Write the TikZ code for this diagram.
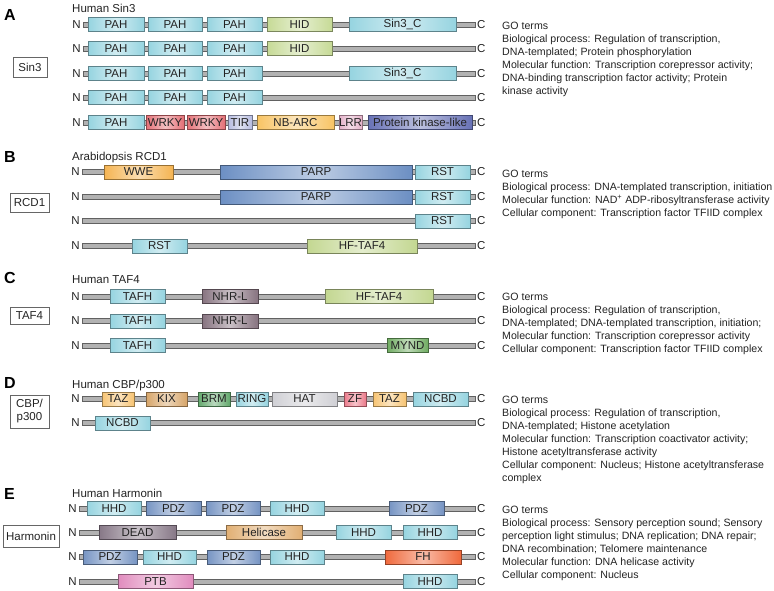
\documentclass[tikz,border=0pt]{standalone}
\usepackage{fontspec}
\setmainfont{Liberation Sans}
\definecolor{cyanD}{RGB}{150,212,224}
\definecolor{hidC}{RGB}{198,218,150}
\definecolor{wrkyC}{RGB}{228,112,118}
\definecolor{tirC}{RGB}{182,188,225}
\definecolor{nbarcC}{RGB}{248,196,100}
\definecolor{lrrC}{RGB}{228,176,200}
\definecolor{pkC}{RGB}{104,114,182}
\definecolor{wweC}{RGB}{245,180,82}
\definecolor{parpC}{RGB}{108,143,195}
\definecolor{hfC}{RGB}{195,215,145}
\definecolor{nhrC}{RGB}{135,115,128}
\definecolor{myndC}{RGB}{112,172,98}
\definecolor{tazC}{RGB}{247,196,115}
\definecolor{kixC}{RGB}{215,165,105}
\definecolor{brmC}{RGB}{98,168,108}
\definecolor{hatC}{RGB}{208,208,213}
\definecolor{zfC}{RGB}{235,122,138}
\definecolor{pdzC}{RGB}{118,148,195}
\definecolor{deadC}{RGB}{135,120,135}
\definecolor{helC}{RGB}{225,175,115}
\definecolor{fhC}{RGB}{240,105,60}
\definecolor{ptbC}{RGB}{225,140,190}
\definecolor{txt}{RGB}{35,35,35}
\newcommand{\dlab}{\fontsize{11.5}{11.5}\selectfont}
\newcommand{\golab}{\fontsize{10.6}{13}\selectfont}
\tikzset{
  dom/.style={draw=#1!62!black, line width=0.5pt, left color=#1, right color=#1, middle color=#1!45!white,
    minimum height=14, inner sep=0pt, font=\dlab, text=txt},
  backbone/.style={draw=black!62, fill=black!30, line width=0.5pt, minimum height=5, inner sep=0pt},
  term/.style={font=\dlab, text=txt, inner sep=0pt},
  famlabel/.style={draw=black!60, line width=0.5pt, font=\fontsize{11.5}{13}\selectfont, text=txt, inner sep=0pt, align=center},
  panel/.style={font=\fontsize{16}{16}\selectfont\bfseries, text=black, inner sep=0pt, anchor=west},
  heading/.style={font=\fontsize{11.5}{12}\selectfont, text=txt, inner sep=0pt, anchor=base west},
  goterm/.style={font=\golab, text=txt, inner sep=0pt, anchor=north west, align=left}
}
% name, x1, x2, y, color, label
\newcommand{\dm}[6]{\node[dom={#5}, minimum width={#3-#2}] (#1) at ({(#2+#3)/2},#4) {#6};}
% name, x1, x2, y
\newcommand{\bbone}[4]{%
  \node[backbone, minimum width={#3-#2}] (#1) at ({(#2+#3)/2},#4) {};
  \node[term, anchor=east] (#1n) at ({#2-2},#4) {N};
  \node[term, anchor=west] (#1c) at ({#3+2},#4) {C};}
\begin{document}
\begin{tikzpicture}[x=1pt,y=-1pt]
\useasboundingbox (0,0) rectangle (774,590);
% ---------------- A ----------------
\node[panel] (pA) at (4,15) {A};
\node[heading] (hA) at (72,12.3) {Human Sin3};
\node[famlabel, minimum width=34, minimum height=20] (sin3) at (30,67) {Sin3};
\bbone{a1}{83}{475}{24.5}
\dm{a1d1}{88}{144}{24.5}{cyanD}{PAH}
\dm{a1d2}{148}{202}{24.5}{cyanD}{PAH}
\dm{a1d3}{207}{262}{24.5}{cyanD}{PAH}
\dm{a1d4}{267}{332}{24.5}{hidC}{HID}
\dm{a1d5}{349}{456}{24.5}{cyanD}{Sin3\_C}
\bbone{a2}{83}{475}{48.7}
\dm{a2d1}{88}{144}{48.7}{cyanD}{PAH}
\dm{a2d2}{148}{202}{48.7}{cyanD}{PAH}
\dm{a2d3}{207}{262}{48.7}{cyanD}{PAH}
\dm{a2d4}{267}{332}{48.7}{hidC}{HID}
\bbone{a3}{83}{475}{73.3}
\dm{a3d1}{88}{144}{73.3}{cyanD}{PAH}
\dm{a3d2}{148}{202}{73.3}{cyanD}{PAH}
\dm{a3d3}{207}{262}{73.3}{cyanD}{PAH}
\dm{a3d5}{349}{456}{73.3}{cyanD}{Sin3\_C}
\bbone{a4}{83}{475}{97.3}
\dm{a4d1}{88}{144}{97.3}{cyanD}{PAH}
\dm{a4d2}{148}{202}{97.3}{cyanD}{PAH}
\dm{a4d3}{207}{262}{97.3}{cyanD}{PAH}
\bbone{a5}{83}{475}{122.3}
\dm{a5d1}{88}{144}{122.3}{cyanD}{PAH}
\dm{a5d2}{146}{184}{122.3}{wrkyC}{WRKY}
\dm{a5d3}{187}{225}{122.3}{wrkyC}{WRKY}
\dm{a5d4}{228}{252}{122.3}{tirC}{TIR}
\dm{a5d5}{257}{334}{122.3}{nbarcC}{NB-ARC}
\dm{a5d6}{339}{362}{122.3}{lrrC}{LRR}
\dm{a5d7}{368}{472}{122.3}{pkC}{Protein kinase-like}
\node[goterm] (goA) at (502,21.6) {GO terms\\Biological process: Regulation of transcription,\\DNA-templated; Protein phosphorylation\\Molecular function: Transcription corepressor activity;\\DNA-binding transcription factor activity; Protein\\kinase activity};
% ---------------- B ----------------
\node[panel] (pB) at (4,156.5) {B};
\node[heading] (hB) at (72,160.5) {Arabidopsis RCD1};
\node[famlabel, minimum width=39, minimum height=19] (rcd1) at (29.5,202.5) {RCD1};
\bbone{b1}{82}{475}{172}
\dm{b1d1}{104}{173}{172}{wweC}{WWE}
\dm{b1d2}{220}{412}{172}{parpC}{PARP}
\dm{b1d3}{415}{470}{172}{cyanD}{RST}
\bbone{b2}{82}{475}{197}
\dm{b2d2}{220}{412}{197}{parpC}{PARP}
\dm{b2d3}{415}{470}{197}{cyanD}{RST}
\bbone{b3}{82}{475}{221}
\dm{b3d3}{415}{470}{221}{cyanD}{RST}
\bbone{b4}{82}{475}{246}
\dm{b4d1}{132}{187}{246}{cyanD}{RST}
\dm{b4d2}{307}{417}{246}{hfC}{HF-TAF4}
\node[goterm] (goB) at (502,170) {GO terms\\Biological process: DNA-templated transcription, initiation\\Molecular function: NAD\textsuperscript{+} ADP-ribosyltransferase activity\\Cellular component: Transcription factor TFIID complex};
% ---------------- C ----------------
\node[panel] (pC) at (4,278) {C};
\node[heading] (hC) at (72,283) {Human TAF4};
\node[famlabel, minimum width=39, minimum height=17] (taf4) at (29.5,315.5) {TAF4};
\bbone{c1}{82}{475}{296.5}
\dm{c1d1}{110}{165}{296.5}{cyanD}{TAFH}
\dm{c1d2}{202}{258}{296.5}{nhrC}{NHR-L}
\dm{c1d3}{325}{433}{296.5}{hfC}{HF-TAF4}
\bbone{c2}{82}{475}{321}
\dm{c2d1}{110}{165}{321}{cyanD}{TAFH}
\dm{c2d2}{202}{258}{321}{nhrC}{NHR-L}
\bbone{c3}{82}{475}{345.5}
\dm{c3d1}{110}{165}{345.5}{cyanD}{TAFH}
\dm{c3d2}{387}{428}{345.5}{myndC}{MYND}
\node[goterm] (goC) at (502,293.3) {GO terms\\Biological process: Regulation of transcription,\\DNA-templated; DNA-templated transcription, initiation;\\Molecular function: Transcription corepressor activity\\Cellular component: Transcription factor TFIID complex};
% ---------------- D ----------------
\node[panel] (pD) at (4,382.5) {D};
\node[heading] (hD) at (72,388) {Human CBP/p300};
\node[famlabel, minimum width=39, minimum height=33] (cbp) at (29.5,411.5) {CBP/\\p300};
\bbone{d1}{82}{475}{399}
\dm{d1d1}{102}{134}{399}{tazC}{TAZ}
\dm{d1d2}{146}{187}{399}{kixC}{KIX}
\dm{d1d3}{198}{230}{399}{brmC}{BRM}
\dm{d1d4}{236}{268}{399}{cyanD}{RING}
\dm{d1d5}{272}{337}{399}{hatC}{HAT}
\dm{d1d6}{344}{366}{399}{zfC}{ZF}
\dm{d1d7}{373}{406}{399}{tazC}{TAZ}
\dm{d1d8}{413}{468}{399}{cyanD}{NCBD}
\bbone{d2}{82}{475}{423}
\dm{d2d1}{95}{150}{423}{cyanD}{NCBD}
\node[goterm] (goD) at (502,396) {GO terms\\Biological process: Regulation of transcription,\\DNA-templated; Histone acetylation\\Molecular function: Transcription coactivator activity;\\Histone acetyltransferase activity\\Cellular component: Nucleus; Histone acetyltransferase\\complex};
% ---------------- E ----------------
\node[panel] (pE) at (4,494) {E};
\node[heading] (hE) at (72,497) {Human Harmonin};
\node[famlabel, minimum width=56, minimum height=22] (harm) at (31,536) {Harmonin};
\bbone{e1}{79}{475}{508.5}
\dm{e1d1}{87}{141}{508.5}{cyanD}{HHD}
\dm{e1d2}{146}{201}{508.5}{pdzC}{PDZ}
\dm{e1d3}{206}{260}{508.5}{pdzC}{PDZ}
\dm{e1d4}{270}{324}{508.5}{cyanD}{HHD}
\dm{e1d5}{389}{444}{508.5}{pdzC}{PDZ}
\bbone{e2}{79}{475}{532.5}
\dm{e2d1}{99}{176}{532.5}{deadC}{DEAD}
\dm{e2d2}{226}{302}{532.5}{helC}{Helicase}
\dm{e2d3}{336}{391}{532.5}{cyanD}{HHD}
\dm{e2d4}{403}{457}{532.5}{cyanD}{HHD}
\bbone{e3}{79}{475}{557}
\dm{e3d1}{83}{137}{557}{pdzC}{PDZ}
\dm{e3d2}{143}{196}{557}{cyanD}{HHD}
\dm{e3d3}{207}{260}{557}{pdzC}{PDZ}
\dm{e3d4}{270}{324}{557}{cyanD}{HHD}
\dm{e3d5}{385}{461}{557}{fhC}{FH}
\bbone{e4}{79}{475}{581.5}
\dm{e4d1}{118}{193}{581.5}{ptbC}{PTB}
\dm{e4d2}{403}{457}{581.5}{cyanD}{HHD}
\node[goterm] (goE) at (502,506) {GO terms\\Biological process: Sensory perception sound; Sensory\\perception light stimulus; DNA replication; DNA repair;\\DNA recombination; Telomere maintenance\\Molecular function: DNA helicase activity\\Cellular component: Nucleus};
\end{tikzpicture}
\end{document}
